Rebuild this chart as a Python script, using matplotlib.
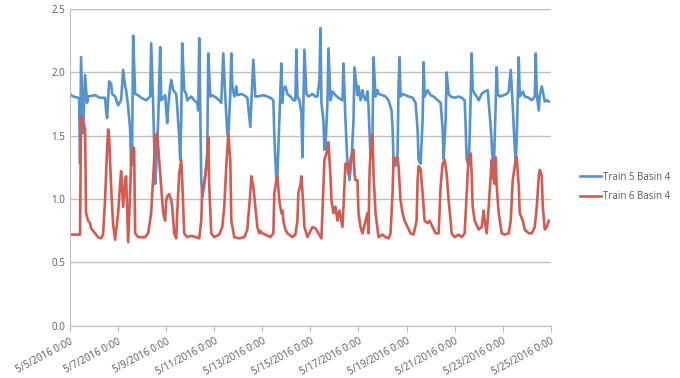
import pandas as pd
import matplotlib
matplotlib.use('Agg')
import matplotlib.pyplot as plt
from matplotlib.ticker import FuncFormatter

# hours since 5/5/2016 0:00 and readings
train5_hours = [0, 3, 8, 9, 10, 11, 13, 15, 17, 18, 25, 30, 35, 36, 37, 39, 41, 42, 45, 48,
                51, 53, 55, 56, 58, 60, 61, 62, 63, 65, 68, 71, 76, 80, 81, 83, 85, 86, 88, 90,
                91, 95, 97, 98, 100, 101, 103, 106, 107, 109, 110, 111, 112, 114, 116, 117, 121, 124, 127, 128,
                129, 131, 132, 134, 137, 138, 140, 142, 146, 149, 151, 153, 155, 157, 158, 160, 161, 162, 164, 166,
                167, 171, 174, 177, 180, 181, 183, 185, 187, 193, 197, 200, 203, 204, 206, 207, 209, 211, 212, 213,
                215, 217, 220, 223, 225, 226, 227, 229, 231, 232, 233, 234, 236, 238, 242, 245, 247, 249, 250, 251,
                253, 254, 255, 257, 258, 260, 262, 265, 268, 272, 273, 275, 277, 279, 281, 283, 284, 287, 288, 290,
                292, 293, 295, 297, 298, 300, 302, 303, 305, 307, 308, 312, 315, 318, 321, 322, 323, 325, 327, 328,
                329, 330, 332, 335, 338, 342, 345, 347, 348, 350, 352, 353, 354, 357, 360, 363, 367, 370, 372, 373,
                375, 376, 378, 380, 384, 388, 391, 394, 395, 396, 398, 399, 401, 402, 404, 406, 408, 411, 414, 417,
                418, 420, 422, 423, 424, 426, 427, 429, 433, 436, 438, 440, 442, 444, 445, 446, 448, 449, 452, 454,
                458, 461, 464, 465, 466, 468, 469, 471, 472, 474, 476, 478]
train5_vals = [1.83, 1.81, 1.80, 1.79, 1.28, 2.12, 1.52, 1.98, 1.76, 1.81, 1.82, 1.80, 1.80, 1.70, 1.64, 1.93, 1.91, 1.83, 1.81, 1.74,
               1.78, 2.02, 1.89, 1.86, 1.73, 1.55, 1.26, 1.41, 2.29, 1.83, 1.82, 1.80, 1.78, 1.81, 2.23, 1.74, 1.12, 1.25, 1.62, 2.20,
               1.78, 1.82, 1.60, 1.73, 1.89, 1.94, 1.86, 1.83, 1.73, 1.49, 1.31, 1.62, 2.23, 1.86, 1.83, 1.78, 1.81, 1.78, 1.76, 1.70,
               2.27, 1.15, 1.02, 1.10, 1.36, 2.15, 1.81, 1.82, 1.80, 1.78, 1.76, 2.15, 1.81, 1.52, 1.49, 1.83, 2.15, 1.89, 1.81, 1.89,
               1.82, 1.83, 1.82, 1.80, 1.57, 1.76, 2.10, 1.81, 1.81, 1.82, 1.81, 1.80, 1.78, 1.49, 1.15, 1.18, 1.62, 2.07, 1.76, 1.86,
               1.89, 1.83, 1.81, 1.78, 1.78, 2.18, 1.81, 1.78, 1.68, 1.33, 1.76, 2.18, 1.83, 1.81, 1.83, 1.81, 1.81, 1.94, 2.35, 1.76,
               1.62, 1.39, 1.41, 1.76, 2.19, 1.78, 1.85, 1.82, 1.80, 1.78, 2.07, 1.62, 1.28, 1.15, 1.31, 1.62, 2.04, 1.82, 1.89, 1.78,
               1.86, 1.81, 1.78, 1.85, 1.73, 1.33, 1.52, 2.12, 1.81, 1.86, 1.83, 1.82, 1.81, 1.78, 1.70, 1.57, 1.31, 1.26, 1.36, 1.89,
               2.12, 1.81, 1.83, 1.82, 1.81, 1.80, 1.76, 1.55, 1.31, 1.28, 1.62, 2.08, 1.81, 1.86, 1.82, 1.81, 1.78, 1.76, 1.55, 1.32,
               1.62, 2.00, 1.83, 1.81, 1.80, 1.81, 1.80, 1.78, 1.57, 1.31, 1.26, 1.49, 2.15, 1.86, 1.83, 1.81, 1.78, 1.83, 1.85, 1.86,
               1.76, 1.57, 1.31, 1.20, 1.49, 2.04, 1.83, 1.81, 1.82, 1.83, 1.85, 2.02, 1.73, 1.41, 1.28, 1.49, 2.12, 1.81, 1.85, 1.81,
               1.80, 1.78, 1.81, 2.15, 1.83, 1.70, 1.82, 1.89, 1.85, 1.77, 1.78, 1.77]

train6_hours = [0, 8, 10, 11, 13, 15, 16, 18, 20, 21, 25, 28, 31, 33, 35, 37, 38, 39, 41, 43,
                45, 48, 50, 51, 53, 55, 56, 58, 60, 61, 63, 64, 65, 68, 75, 78, 81, 84, 85, 87,
                89, 91, 93, 95, 96, 97, 99, 101, 102, 104, 106, 107, 109, 111, 112, 114, 117, 121, 126, 129,
                131, 132, 135, 137, 138, 139, 141, 144, 149, 152, 154, 156, 158, 160, 161, 164, 169, 174, 177, 180,
                181, 183, 185, 187, 189, 190, 192, 195, 200, 203, 204, 206, 207, 209, 211, 212, 213, 215, 217, 222,
                225, 227, 228, 230, 231, 233, 234, 237, 242, 245, 248, 251, 253, 254, 256, 258, 260, 261, 263, 265,
                267, 269, 272, 273, 275, 277, 278, 280, 283, 284, 285, 287, 288, 290, 292, 293, 295, 297, 298, 299,
                300, 302, 303, 305, 307, 308, 312, 315, 318, 320, 322, 323, 325, 327, 328, 330, 332, 334, 337, 340,
                343, 346, 347, 348, 350, 352, 354, 357, 359, 362, 365, 368, 370, 372, 374, 376, 378, 380, 381, 384,
                388, 391, 394, 396, 397, 398, 400, 401, 402, 404, 408, 411, 413, 414, 416, 418, 420, 421, 422, 424,
                425, 426, 428, 431, 434, 438, 440, 442, 444, 446, 448, 449, 452, 454, 458, 461, 464, 466, 468, 469,
                471, 472, 474, 476, 478]
train6_vals = [0.72, 0.72, 0.72, 1.65, 1.62, 1.55, 0.89, 0.83, 0.81, 0.77, 0.73, 0.70, 0.69, 0.72, 1.00, 1.40, 1.55, 1.49, 1.10, 0.80,
               0.68, 0.89, 1.12, 1.22, 0.94, 1.15, 1.18, 0.66, 1.05, 1.31, 1.41, 1.39, 0.73, 0.70, 0.70, 0.73, 0.89, 1.31, 1.49, 1.52,
               1.31, 1.10, 0.89, 0.83, 0.99, 1.02, 1.04, 0.99, 0.94, 0.73, 0.69, 0.89, 1.20, 1.31, 1.15, 0.73, 0.70, 0.71, 0.70, 0.69,
               0.83, 1.07, 1.18, 1.31, 1.49, 1.10, 0.73, 0.70, 0.72, 0.78, 0.94, 1.26, 1.51, 1.31, 0.83, 0.70, 0.69, 0.70, 0.76, 1.05,
               1.18, 1.10, 0.94, 0.78, 0.73, 0.75, 0.73, 0.72, 0.70, 0.73, 1.05, 1.15, 1.18, 0.99, 0.89, 0.91, 0.83, 0.76, 0.73, 0.70,
               0.72, 0.83, 1.05, 1.11, 1.18, 0.94, 0.78, 0.70, 0.78, 0.77, 0.73, 0.69, 1.10, 1.31, 1.36, 1.45, 1.18, 0.99, 0.89, 0.94,
               0.83, 0.91, 0.78, 0.94, 1.28, 1.28, 1.20, 1.31, 1.39, 1.20, 1.15, 1.15, 0.89, 0.78, 0.73, 0.76, 0.83, 0.89, 0.73, 1.20,
               1.36, 1.51, 1.20, 0.89, 0.76, 0.70, 0.72, 0.70, 0.69, 0.73, 1.05, 1.33, 1.31, 1.33, 1.26, 0.99, 0.89, 0.83, 0.78, 0.73,
               0.72, 0.83, 1.15, 1.26, 1.24, 1.05, 0.83, 0.81, 0.83, 0.78, 0.73, 0.73, 1.10, 1.28, 1.31, 1.20, 0.99, 0.83, 0.73, 0.70,
               0.72, 0.70, 0.73, 1.05, 1.20, 1.33, 1.36, 1.20, 0.94, 0.83, 0.76, 0.78, 0.91, 0.83, 0.73, 0.94, 1.18, 1.31, 1.18, 1.12,
               1.33, 1.10, 0.89, 0.73, 0.72, 0.73, 0.83, 1.15, 1.26, 1.33, 1.10, 0.89, 0.83, 0.76, 0.73, 0.73, 0.78, 0.94, 1.18, 1.23,
               1.18, 0.94, 0.76, 0.78, 0.83]

start = pd.Timestamp('2016-05-05')
t5 = start + pd.to_timedelta(train5_hours, unit='h')
t6 = start + pd.to_timedelta(train6_hours, unit='h')

plt.rcParams['font.family'] = ['Open Sans', 'DejaVu Sans']

fig = plt.figure(figsize=(6.8, 3.78), dpi=100)
ax = fig.add_axes([0.103, 0.138, 0.707, 0.838])

ax.plot(t5, train5_vals, color='#5593D0', lw=1.9, label='Train 5 Basin 4')
ax.plot(t6, train6_vals, color='#D65A50', lw=1.9, label='Train 6 Basin 4')

ax.set_xlim(start, pd.Timestamp('2016-05-25'))
ax.set_ylim(0, 2.5)
ax.set_yticks([0, 0.5, 1.0, 1.5, 2.0, 2.5])
ax.yaxis.set_major_formatter(FuncFormatter(lambda v, p: f'{v:.1f}'))
tick_days = pd.date_range('2016-05-05', '2016-05-25', freq='2D')
ax.set_xticks(tick_days)
ax.set_xticklabels([f'{d.month}/{d.day}/{d.year} 0:00' for d in tick_days],
                   rotation=28, ha='right', rotation_mode='anchor')

ax.grid(axis='y', color='#BFBFBF', lw=1)
ax.set_axisbelow(True)
for s in ['top', 'right']:
    ax.spines[s].set_visible(False)
for s in ['left', 'bottom']:
    ax.spines[s].set_color('#BFBFBF')
ax.tick_params(axis='both', colors='#BFBFBF', labelcolor='#595959', labelsize=7, length=4)
ax.tick_params(axis='y', length=0)

fig.legend(loc='center left', bbox_to_anchor=(0.84, 0.505), frameon=False,
           fontsize=7, handlelength=2.2, handletextpad=0.2, labelspacing=0.9,
           labelcolor='#595959')

plt.savefig('out.png', dpi=100)
plt.close()
